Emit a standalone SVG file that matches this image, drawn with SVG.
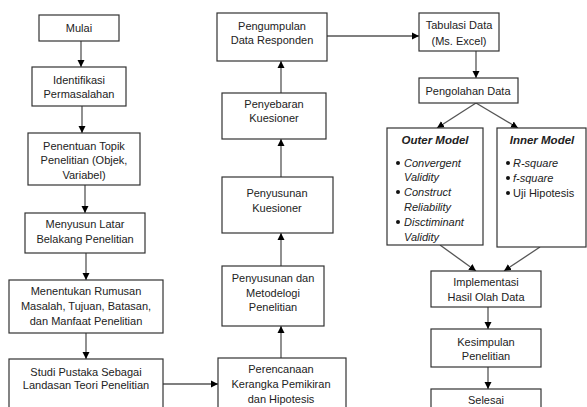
<svg xmlns="http://www.w3.org/2000/svg" width="587" height="407" viewBox="0 0 587 407">
<defs>
<marker id="ah" markerWidth="8" markerHeight="8" refX="7" refY="4" orient="auto" markerUnits="userSpaceOnUse">
<path d="M0,0.5 L7,4 L0,7.5 Z" fill="#000"/>
</marker>
<style>
.b{fill:#fff;stroke:#333;stroke-width:1.2}
.c{stroke:#555;stroke-width:1.3;fill:none;marker-end:url(#ah)}
text{font-family:"Liberation Sans",Arial,sans-serif;font-size:11px;fill:#222}
.m{text-anchor:middle}
.h{font-weight:bold;font-style:italic;font-size:11.5px}
.i{font-style:italic}
.d{fill:#111}
</style>
</defs>
<rect width="587" height="407" fill="#fff"/>
<g id="connectors">
<line class="c" x1="81" y1="41" x2="81" y2="67"/>
<line class="c" x1="82" y1="106" x2="82" y2="133"/>
<line class="c" x1="85" y1="185" x2="85" y2="213"/>
<line class="c" x1="86" y1="253" x2="86" y2="280"/>
<line class="c" x1="86" y1="333" x2="86" y2="359"/>
<line class="c" x1="163" y1="384" x2="218" y2="384"/>
<line class="c" x1="281" y1="358" x2="281" y2="326"/>
<line class="c" x1="281" y1="266" x2="281" y2="233"/>
<line class="c" x1="281" y1="177" x2="281" y2="139"/>
<line class="c" x1="281" y1="93" x2="281" y2="61"/>
<line class="c" x1="327" y1="36" x2="419" y2="36"/>
<line class="c" x1="476" y1="51" x2="476" y2="78"/>
<line class="c" x1="476" y1="103" x2="437" y2="128"/>
<line class="c" x1="476" y1="103" x2="518" y2="128"/>
<line class="c" x1="440" y1="245" x2="476" y2="271"/>
<line class="c" x1="540" y1="247" x2="504" y2="271"/>
<line class="c" x1="488" y1="307" x2="488" y2="329"/>
<line class="c" x1="488" y1="367" x2="488" y2="389"/>
</g>
<g id="mulai"><rect class="b" x="39" y="15" width="80" height="26"/><text class="m" x="79" y="32">Mulai</text></g>
<g id="identifikasi"><rect class="b" x="32" y="67" width="94" height="39"/><text class="m" x="79" y="84">Identifikasi</text><text class="m" x="79" y="98">Permasalahan</text></g>
<g id="penentuan"><rect class="b" x="28" y="133" width="112" height="52"/><text class="m" x="84" y="150">Penentuan Topik</text><text class="m" x="84" y="164">Penelitian (Objek,</text><text class="m" x="84" y="179">Variabel)</text></g>
<g id="latar"><rect class="b" x="25" y="213" width="120" height="40"/><text class="m" x="85" y="228">Menyusun Latar</text><text class="m" x="85" y="243">Belakang Penelitian</text></g>
<g id="rumusan"><rect class="b" x="9" y="280" width="154" height="53"/><text class="m" x="86" y="295">Menentukan Rumusan</text><text class="m" x="86" y="310">Masalah, Tujuan, Batasan,</text><text class="m" x="86" y="325">dan Manfaat Penelitian</text></g>
<g id="studi"><rect class="b" x="9" y="359" width="154" height="60"/><text class="m" x="86" y="376">Studi Pustaka Sebagai</text><text class="m" x="86" y="389">Landasan Teori Penelitian</text></g>
<g id="perencanaan"><rect class="b" x="218" y="358" width="128" height="60"/><text class="m" x="281" y="373">Perencanaan</text><text class="m" x="281" y="388">Kerangka Pemikiran</text><text class="m" x="281" y="403">dan Hipotesis</text></g>
<g id="metodelogi"><rect class="b" x="222" y="266" width="102" height="60"/><text class="m" x="273" y="282">Penyusunan dan</text><text class="m" x="273" y="297">Metodelogi</text><text class="m" x="273" y="311">Penelitian</text></g>
<g id="kuesioner"><rect class="b" x="222" y="177" width="111" height="56"/><text class="m" x="277" y="197">Penyusunan</text><text class="m" x="277" y="212">Kuesioner</text></g>
<g id="penyebaran"><rect class="b" x="222" y="93" width="104" height="46"/><text class="m" x="274" y="108">Penyebaran</text><text class="m" x="274" y="122">Kuesioner</text></g>
<g id="pengumpulan"><rect class="b" x="217" y="13" width="110" height="48"/><text class="m" x="272" y="30">Pengumpulan</text><text class="m" x="272" y="44">Data Responden</text></g>
<g id="tabulasi"><rect class="b" x="419" y="13" width="80" height="38"/><text class="m" x="459" y="29">Tabulasi Data</text><text class="m" x="459" y="45">(Ms. Excel)</text></g>
<g id="pengolahan"><rect class="b" x="419" y="78" width="99" height="25"/><text class="m" x="468" y="95">Pengolahan Data</text></g>
<g id="outer"><rect class="b" x="387" y="128" width="96" height="117"/><text class="m h" x="435" y="144">Outer Model</text>
<circle class="d" cx="398" cy="163" r="2"/><text class="i" x="404" y="167">Convergent</text><text class="i" x="404" y="181">Validity</text>
<circle class="d" cx="398" cy="192" r="2"/><text class="i" x="404" y="196">Construct</text><text class="i" x="404" y="211">Reliability</text>
<circle class="d" cx="398" cy="222" r="2"/><text class="i" x="404" y="226">Disctiminant</text><text class="i" x="404" y="241">Validity</text></g>
<g id="inner"><rect class="b" x="497" y="128" width="89" height="119"/><text class="m h" x="542" y="144">Inner Model</text>
<circle class="d" cx="508" cy="163" r="2"/><text class="i" x="513" y="167">R-square</text>
<circle class="d" cx="508" cy="178" r="2"/><text class="i" x="513" y="182">f-square</text>
<circle class="d" cx="508" cy="193" r="2"/><text x="513" y="197">Uji Hipotesis</text></g>
<g id="implementasi"><rect class="b" x="431" y="271" width="110" height="36"/><text class="m" x="486" y="286">Implementasi</text><text class="m" x="486" y="301">Hasil Olah Data</text></g>
<g id="kesimpulan"><rect class="b" x="431" y="329" width="110" height="38"/><text class="m" x="486" y="346">Kesimpulan</text><text class="m" x="486" y="360">Penelitian</text></g>
<g id="selesai"><rect class="b" x="431" y="389" width="110" height="30"/><text class="m" x="486" y="404">Selesai</text></g>
</svg>
